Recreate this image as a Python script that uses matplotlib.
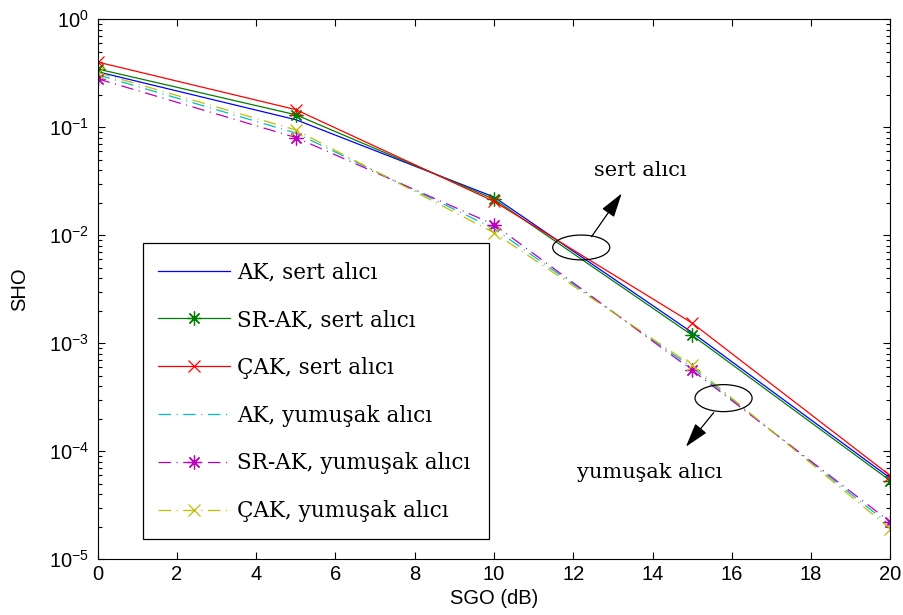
import numpy as np
import matplotlib
matplotlib.use('Agg')
import matplotlib.pyplot as plt
from matplotlib.patches import Ellipse, Rectangle

plt.rcParams['font.family'] = ['Liberation Sans', 'DejaVu Sans']
plt.rcParams['mathtext.fontset'] = 'custom'
plt.rcParams['mathtext.rm'] = 'Liberation Sans'
plt.rcParams['mathtext.it'] = 'Liberation Sans:italic'
plt.rcParams['mathtext.bf'] = 'Liberation Sans:bold'
plt.rcParams['lines.scale_dashes'] = False

# data
sgo = [0, 5, 10, 15, 20]
ak_hard = [0.325, 0.117, 0.0225, 1.25e-3, 5.6e-5]
srak_hard = [0.345, 0.130, 0.0215, 1.18e-3, 5.3e-5]
cak_hard = [0.40, 0.145, 0.0205, 1.53e-3, 5.9e-5]
ak_soft = [0.305, 0.088, 0.0115, 5.9e-4, 2.05e-5]
srak_soft = [0.28, 0.080, 0.0125, 5.6e-4, 2.2e-5]
cak_soft = [0.32, 0.094, 0.0105, 6.2e-4, 1.9e-5]

labels = ['AK, sert alıcı', 'SR-AK, sert alıcı', 'ÇAK, sert alıcı',
          'AK, yumuşak alıcı', 'SR-AK, yumuşak alıcı', 'ÇAK, yumuşak alıcı']

blue, green, red = (0, 0, 1), (0, 0.5, 0), (1, 0, 0)
cyan, magenta, yellow = (0, 0.75, 0.75), (0.75, 0, 0.75), (0.75, 0.75, 0)
ast = (8, 2, 0)
dashdot = (0, (9, 4, 0.8, 4))

fig = plt.figure(figsize=(9.04, 6.15), dpi=100)
ax = fig.add_axes([0.108, 0.091, 0.877, 0.878])

lw = 0.9
ax.semilogy(sgo, ak_hard, color=blue, lw=lw, label=labels[0])
ax.semilogy(sgo, srak_hard, color=green, lw=lw, marker=ast, ms=10, mew=0.9, label=labels[1])
ax.semilogy(sgo, cak_hard, color=red, lw=lw, marker='x', ms=9, mew=0.9, label=labels[2])
ax.semilogy(sgo, ak_soft, color=cyan, lw=lw, ls=dashdot, label=labels[3])
ax.semilogy(sgo, srak_soft, color=magenta, lw=lw, ls=dashdot, marker=ast, ms=10, mew=0.9, label=labels[4])
ax.semilogy(sgo, cak_soft, color=yellow, lw=lw, ls=dashdot, marker='x', ms=9, mew=0.9, label=labels[5])

ax.set_xlim(0, 20)
ax.set_ylim(1e-5, 1)
ax.set_xticks(np.arange(0, 21, 2))
ax.tick_params(which='both', direction='in', top=True, right=True, labelsize=14.5)
ax.tick_params(which='major', length=5, width=0.8)
ax.tick_params(which='minor', length=3, width=0.8)
ax.tick_params(axis='x', pad=4)
ax.tick_params(axis='y', pad=6)
for s in ax.spines.values():
    s.set_linewidth(0.8)
ax.set_xlabel('SGO (dB)', fontsize=14.5, labelpad=4)
ax.set_ylabel('SHO', fontsize=14.5, labelpad=14)

# legend box
ax.add_patch(Rectangle((0.057, 0.037), 0.437, 0.548, transform=ax.transAxes,
                       facecolor='white', edgecolor='black', lw=0.9, zorder=4))
leg = ax.legend(loc='upper left', bbox_to_anchor=(0.057, 0.5796), borderaxespad=0,
                frameon=False, prop={'family': 'DejaVu Serif', 'size': 15.5},
                handlelength=3.35, handletextpad=0.33, labelspacing=1.2,
                borderpad=0.7)
leg.set_zorder(5)

# annotations
serif = {'family': 'DejaVu Serif', 'size': 15}
arrow = dict(arrowstyle='-|>,head_length=1.5,head_width=0.45', color='black',
             lw=0.9, mutation_scale=10, shrinkA=0, shrinkB=0)
ax.add_patch(Ellipse((0.61, 0.577), 0.072, 0.046, transform=ax.transAxes,
                     fill=False, edgecolor='black', lw=0.9, zorder=6))
ax.annotate('', xy=(0.661, 0.677), xytext=(0.623, 0.597), xycoords='axes fraction',
            arrowprops=arrow)
ax.text(0.684, 0.719, 'sert alıcı', transform=ax.transAxes, ha='center', va='center', **serif)

ax.add_patch(Ellipse((0.7895, 0.298), 0.072, 0.05, transform=ax.transAxes,
                     fill=False, edgecolor='black', lw=0.9, zorder=6))
ax.annotate('', xy=(0.742, 0.208), xytext=(0.777, 0.271), xycoords='axes fraction',
            arrowprops=arrow)
ax.text(0.6957, 0.161, 'yumuşak alıcı', transform=ax.transAxes, ha='center', va='center', **serif)

fig.savefig('out.png', dpi=100)
